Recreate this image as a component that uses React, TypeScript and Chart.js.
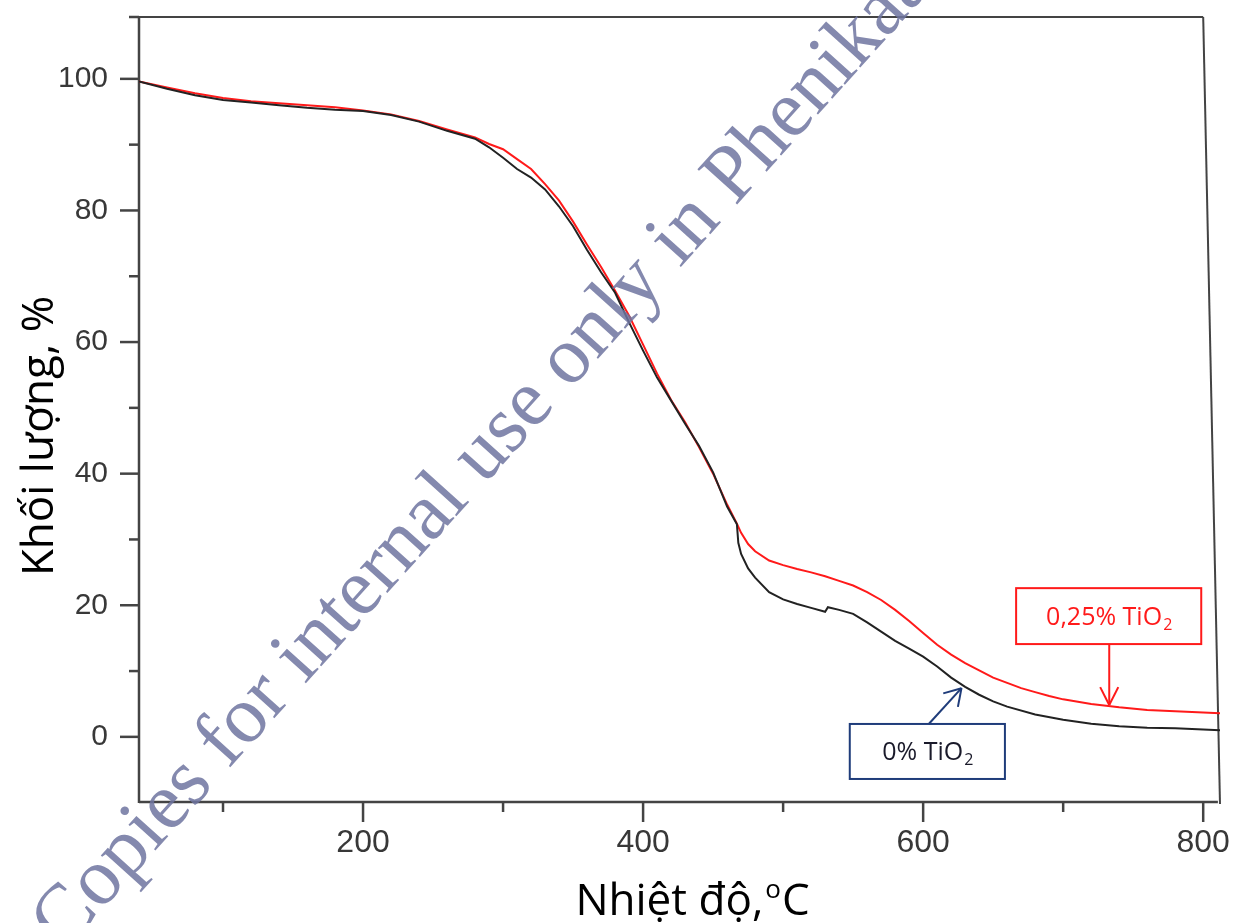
import React, { useEffect, useRef } from 'react';
import { Chart, registerables } from 'chart.js';

Chart.register(...registerables);

// ---- Data ----
const temperature0 = [40, 60, 80, 100, 120, 140, 160, 180, 200, 220, 240, 260, 280, 290, 300, 310, 320, 330, 340, 350, 360, 370, 380, 390, 400, 410, 420, 430, 440, 450, 460, 467, 468, 470, 475, 480, 490, 500, 510, 520, 530, 532, 540, 550, 560, 570, 580, 590, 600, 610, 620, 630, 640, 650, 660, 680, 700, 720, 740, 760, 780, 800, 812];
const mass0 = [99.6, 98.5, 97.5, 96.8, 96.4, 96.0, 95.6, 95.3, 95.1, 94.5, 93.5, 92.1, 90.9, 89.6, 88.0, 86.3, 85.0, 83.2, 80.6, 77.6, 74.0, 70.6, 67.5, 63.0, 58.7, 54.6, 51.1, 47.6, 44.2, 40.2, 35.0, 32.3, 29.5, 27.8, 25.6, 24.2, 22.0, 20.9, 20.2, 19.6, 19.0, 19.7, 19.3, 18.7, 17.4, 16.0, 14.6, 13.4, 12.2, 10.7, 9.0, 7.6, 6.4, 5.4, 4.6, 3.4, 2.6, 2.0, 1.6, 1.4, 1.3, 1.1, 1.0];

const temperature25 = [40, 60, 80, 100, 120, 140, 160, 180, 200, 220, 240, 260, 280, 290, 300, 310, 320, 330, 340, 350, 360, 370, 380, 390, 400, 410, 420, 430, 440, 450, 460, 467, 470, 475, 480, 490, 500, 510, 520, 530, 540, 550, 560, 570, 580, 590, 600, 610, 620, 630, 640, 650, 660, 670, 680, 690, 700, 720, 740, 760, 780, 800, 812];
const mass25 = [99.6, 98.7, 97.8, 97.1, 96.6, 96.3, 96.0, 95.7, 95.2, 94.6, 93.6, 92.3, 91.1, 90.1, 89.3, 87.8, 86.3, 84.0, 81.5, 78.3, 74.8, 71.4, 67.8, 64.0, 59.6, 55.2, 51.2, 47.8, 44.0, 40.0, 35.3, 32.4, 31.0, 29.3, 28.2, 26.8, 26.1, 25.5, 25.0, 24.4, 23.7, 23.0, 22.0, 20.8, 19.3, 17.6, 15.8, 14.0, 12.5, 11.2, 10.1, 9.0, 8.2, 7.4, 6.8, 6.2, 5.7, 5.0, 4.5, 4.1, 3.9, 3.7, 3.6];

const xMajorTicks = [200, 400, 600, 800];
const xMinorTicks = [100, 300, 500, 700];
const yMajorTicks = [0, 20, 40, 60, 80, 100];
const yMinorTicks = [10, 30, 50, 70, 90];

const xTitleMain = 'Nhiệt độ,';
const xTitleSup = 'o';
const xTitleEnd = 'C';
const yTitle = 'Khối lượng, %';
const label0 = '0% TiO';
const label25 = '0,25% TiO';
const subscript = '2';
const watermark = 'Copies for internal use only in Phenikaa University';

const X_MIN = 40;
const X_MAX = 812;
const Y_MIN = -9.9;
const Y_MAX = 109.4;

const AXIS_COLOR = '#444444';

function line(ctx: CanvasRenderingContext2D, x1: number, y1: number, x2: number, y2: number) {
  ctx.beginPath();
  ctx.moveTo(x1, y1);
  ctx.lineTo(x2, y2);
  ctx.stroke();
}

function arrow(ctx: CanvasRenderingContext2D, x1: number, y1: number, x2: number, y2: number, head: number, ang: number) {
  line(ctx, x1, y1, x2, y2);
  const a = Math.atan2(y2 - y1, x2 - x1);
  line(ctx, x2, y2, x2 - head * Math.cos(a - ang), y2 - head * Math.sin(a - ang));
  line(ctx, x2, y2, x2 - head * Math.cos(a + ang), y2 - head * Math.sin(a + ang));
}

function subText(ctx: CanvasRenderingContext2D, main: string, sub: string, cx: number, baseline: number, size: number, color: string) {
  ctx.fillStyle = color;
  ctx.textBaseline = 'alphabetic';
  ctx.textAlign = 'left';
  ctx.font = `${size}px "Open Sans"`;
  const w1 = ctx.measureText(main).width;
  ctx.font = `${Math.round(size * 0.65)}px "Open Sans"`;
  const w2 = ctx.measureText(sub).width;
  const x0 = cx - (w1 + w2) / 2;
  ctx.font = `${size}px "Open Sans"`;
  ctx.fillText(main, x0, baseline);
  ctx.font = `${Math.round(size * 0.65)}px "Open Sans"`;
  ctx.fillText(sub, x0 + w1 + 1, baseline + size * 0.2);
}

function zeroPadding(scale: any) {
  scale.paddingTop = 0;
  scale.paddingBottom = 0;
  scale.paddingLeft = 0;
  scale.paddingRight = 0;
}

const framePlugin = {
  id: 'frame',
  beforeDatasetsDraw(chart: any) {
    const { ctx, chartArea, scales } = chart;
    const { left, top, bottom } = chartArea;
    const x = scales.x;
    const y = scales.y;
    ctx.save();
    ctx.strokeStyle = AXIS_COLOR;
    ctx.lineWidth = 2.5;
    ctx.lineCap = 'butt';
    line(ctx, left, top - 1, left, bottom + 1);
    line(ctx, left, bottom, x.getPixelForValue(810.5), bottom);
    ctx.lineWidth = 2;
    line(ctx, left, top, x.getPixelForValue(800), top);
    ctx.lineWidth = 2;
    line(ctx, x.getPixelForValue(800), top, x.getPixelForValue(X_MAX), bottom + 2);
    ctx.lineWidth = 2.5;
    yMajorTicks.forEach((v) => { const p = y.getPixelForValue(v); line(ctx, left - 19, p, left, p); });
    yMinorTicks.forEach((v) => { const p = y.getPixelForValue(v); line(ctx, left - 10, p, left, p); });
    line(ctx, left - 10, top, left, top);
    xMajorTicks.forEach((v) => { const p = x.getPixelForValue(v); line(ctx, p, bottom, p, bottom + 20); });
    xMinorTicks.forEach((v) => { const p = x.getPixelForValue(v); line(ctx, p, bottom, p, bottom + 10); });

    // axis titles
    ctx.fillStyle = '#000000';
    ctx.textBaseline = 'alphabetic';
    ctx.textAlign = 'left';
    ctx.font = '44px "Open Sans"';
    const wMain = ctx.measureText(xTitleMain).width;
    ctx.font = '26px "Open Sans"';
    const wSup = ctx.measureText(xTitleSup).width;
    ctx.font = '44px "Open Sans"';
    const wEnd = ctx.measureText(xTitleEnd).width;
    const total = wMain + wSup + 2 + wEnd;
    const xs = 692 - total / 2;
    ctx.fillText(xTitleMain, xs, 915);
    ctx.font = '26px "Open Sans"';
    ctx.fillText(xTitleSup, xs + wMain + 2, 898);
    ctx.font = '44px "Open Sans"';
    ctx.fillText(xTitleEnd, xs + wMain + wSup + 3, 915);

    ctx.save();
    ctx.translate(53, 436);
    ctx.rotate(-Math.PI / 2);
    ctx.textAlign = 'center';
    ctx.font = '44px "Open Sans"';
    ctx.fillText(yTitle, 0, 0);
    ctx.restore();

    ctx.restore();
  },
  afterDatasetsDraw(chart: any) {
    const { ctx, scales } = chart;
    const x = scales.x;
    const y = scales.y;
    ctx.save();
    // red annotation
    const rx1 = x.getPixelForValue(666.4), rx2 = x.getPixelForValue(798.6);
    const ry1 = y.getPixelForValue(22.6), ry2 = y.getPixelForValue(14.1);
    ctx.fillStyle = '#ffffff';
    ctx.fillRect(rx1, ry1, rx2 - rx1, ry2 - ry1);
    ctx.strokeStyle = '#ff1a1a';
    ctx.lineWidth = 2;
    ctx.strokeRect(rx1, ry1, rx2 - rx1, ry2 - ry1);
    arrow(ctx, x.getPixelForValue(732.9), ry2, x.getPixelForValue(732.9), y.getPixelForValue(4.85), 20, 0.47);
    subText(ctx, label25, subscript, (rx1 + rx2) / 2, (ry1 + ry2) / 2 + 9, 25, '#ff1a1a');

    // blue annotation
    const bx1 = x.getPixelForValue(547.6), bx2 = x.getPixelForValue(658.4);
    const by1 = y.getPixelForValue(1.96), by2 = y.getPixelForValue(-6.4);
    ctx.fillStyle = '#ffffff';
    ctx.fillRect(bx1, by1, bx2 - bx1, by2 - by1);
    ctx.strokeStyle = '#1f3c7a';
    ctx.lineWidth = 2;
    ctx.strokeRect(bx1, by1, bx2 - bx1, by2 - by1);
    arrow(ctx, x.getPixelForValue(604), by1, x.getPixelForValue(627.4), y.getPixelForValue(7.4), 19, 0.55);
    subText(ctx, label0, subscript, (bx1 + bx2) / 2, (by1 + by2) / 2 + 9, 25, '#1a1a2a');
    ctx.restore();
  },
  afterDraw(chart: any) {
    const { ctx } = chart;
    ctx.save();
    ctx.translate(64, 952);
    ctx.rotate(-48 * Math.PI / 180);
    ctx.fillStyle = 'rgba(110, 116, 160, 0.85)';
    ctx.font = '81px "Liberation Serif"';
    ctx.textAlign = 'left';
    ctx.textBaseline = 'alphabetic';
    ctx.fillText(watermark, 0, 0);
    ctx.restore();
  },
};

export default function App() {
  const canvasRef = useRef<HTMLCanvasElement | null>(null);

  useEffect(() => {
    document.body.style.margin = '0';
    const canvas = canvasRef.current;
    if (!canvas) return;
    const chart = new Chart(canvas, {
      type: 'line',
      data: {
        datasets: [
          {
            label: '0% TiO2',
            data: temperature0.map((t, i) => ({ x: t, y: mass0[i] })),
            borderColor: '#222222',
            borderWidth: 2,
            pointRadius: 0,
            tension: 0,
            fill: false,
          },
          {
            label: '0,25% TiO2',
            data: temperature25.map((t, i) => ({ x: t, y: mass25[i] })),
            borderColor: '#ff1a1a',
            borderWidth: 2,
            pointRadius: 0,
            tension: 0,
            fill: false,
          },
        ],
      },
      options: {
        animation: false,
        responsive: false,
        maintainAspectRatio: false,
        layout: { padding: { top: 17, right: 13, left: 0, bottom: 0 } },
        plugins: {
          legend: { display: false },
          tooltip: { enabled: false },
        },
        scales: {
          x: {
            type: 'linear',
            min: X_MIN,
            max: X_MAX,
            grid: { display: false, drawTicks: false },
            border: { display: false },
            afterBuildTicks: (scale: any) => { scale.ticks = xMajorTicks.map((v) => ({ value: v })); },
            afterFit: (scale: any) => { scale.height = 121; zeroPadding(scale); },
            ticks: {
              color: '#383838',
              padding: 22,
              maxRotation: 0,
              autoSkip: false,
              font: { family: '"Liberation Sans"', size: 32 },
              callback: (v: any) => String(v),
            },
          },
          y: {
            type: 'linear',
            min: Y_MIN,
            max: Y_MAX,
            grid: { display: false, drawTicks: false },
            border: { display: false },
            afterBuildTicks: (scale: any) => { scale.ticks = yMajorTicks.map((v) => ({ value: v })); },
            afterFit: (scale: any) => { scale.width = 139; zeroPadding(scale); },
            ticks: {
              color: '#383838',
              padding: 31,
              autoSkip: false,
              font: { family: '"Liberation Sans"', size: 30 },
              callback: (v: any) => String(v),
            },
          },
        },
      },
      plugins: [framePlugin],
    });
    return () => chart.destroy();
  }, []);

  return (
    <div style={{ position: 'absolute', left: 0, top: 0, width: 1233, height: 923, background: '#ffffff' }}>
      <canvas ref={canvasRef} width={1233} height={923} style={{ display: 'block' }} />
    </div>
  );
}
